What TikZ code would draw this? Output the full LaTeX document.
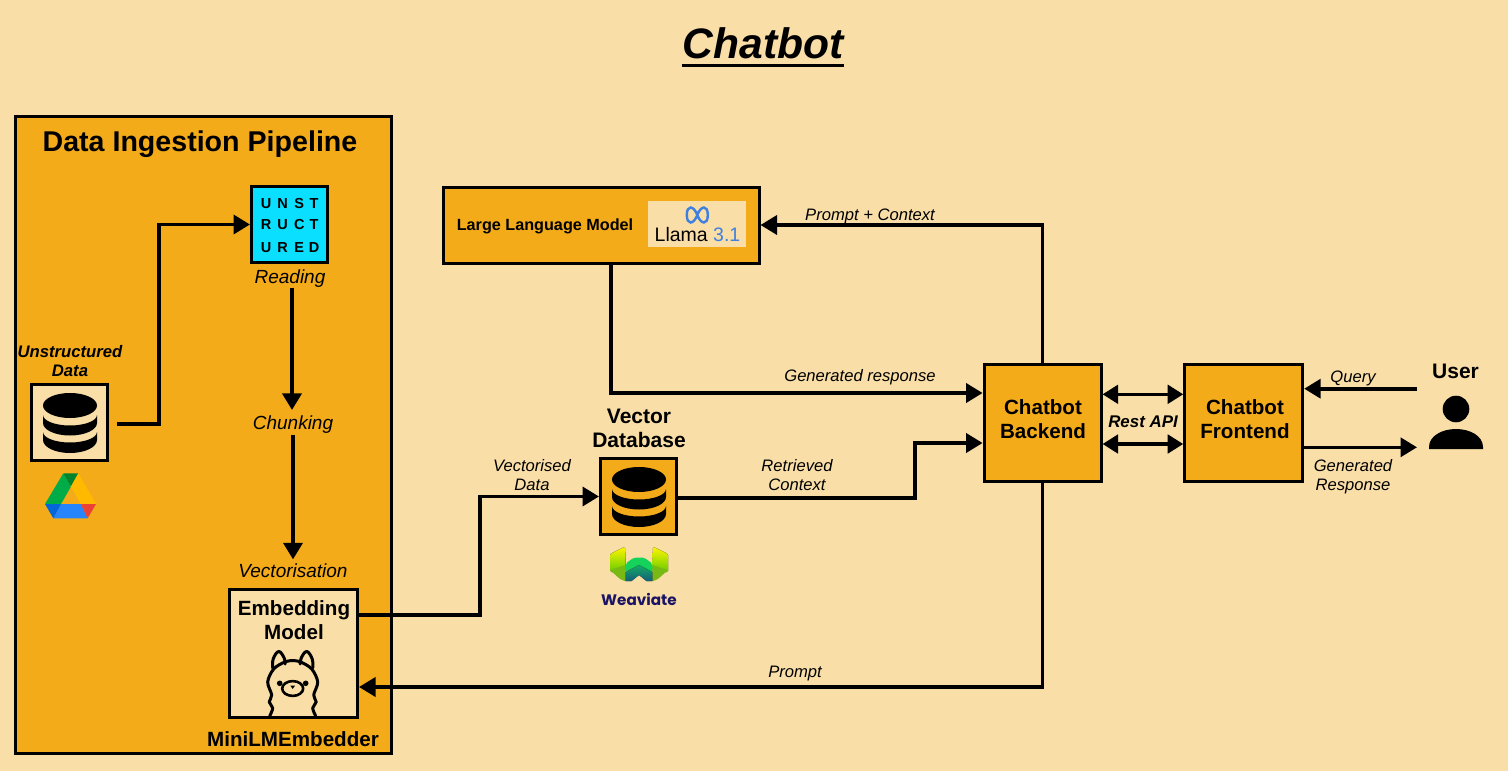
\documentclass[tikz,border=0pt]{standalone}
\usepackage{fontspec}
\setmainfont{Liberation Sans}
\newfontfamily\popfont{Poppins}
\usetikzlibrary{arrows.meta,calc}
\definecolor{bgc}{HTML}{F9DEA8}
\definecolor{orc}{HTML}{F4AB19}
\definecolor{cyanc}{HTML}{0ADFFF}
\definecolor{metab}{HTML}{3F7FE0}
\definecolor{navyc}{HTML}{1B1464}
\newcommand{\fsz}[2]{\fontsize{#1}{#2}\selectfont}
\newcommand{\dbicon}[3]{%
 \begin{scope}[shift={(#1,#2)}]
  \fill[#3] (0,-17) circle[x radius=27pt,y radius=12.5pt];
  \fill[#3] (-27,-7.5) -- (-27,0.5) arc[start angle=180,end angle=360,x radius=27pt,y radius=12.5pt] -- (27,-7.5) arc[start angle=0,end angle=-180,x radius=27pt,y radius=10.5pt] -- cycle;
  \fill[#3] (-27,9.5) -- (-27,17.5) arc[start angle=180,end angle=360,x radius=27pt,y radius=13pt] -- (27,9.5) arc[start angle=0,end angle=-180,x radius=27pt,y radius=10.5pt] -- cycle;
 \end{scope}}
\tikzset{
 x=1pt,y=-1pt,
 boxnode/.style={draw=black,line width=3pt,inner sep=0pt,align=center},
 orbox/.style={boxnode,fill=orc},
 crbox/.style={boxnode,fill=bgc},
 txt/.style={inner sep=0pt,align=center},
 elabel/.style={txt,font=\itshape\fsz{16.6}{19.5}},
 steplabel/.style={txt,font=\itshape\fsz{19}{23}},
 heavy/.style={txt,font=\bfseries\fsz{20.6}{23.8}},
 conn/.style={line width=3.6pt,-{Triangle[length=16.5pt,width=19pt]}},
 bothconn/.style={line width=3.4pt,{Triangle[length=15.5pt,width=18.5pt]}-{Triangle[length=15.5pt,width=18.5pt]}},
 ulet/.style={txt,font=\bfseries\fsz{14.5}{15}},
}
\begin{document}
\begin{tikzpicture}
\fill[bgc] (0,0) rectangle (1508,771);
\useasboundingbox (0,0) rectangle (1508,771);
% title
\node[txt,font=\bfseries\itshape\fsz{42.6}{46}] (title) at (763,43) {Chatbot};
\draw[line width=2.6pt] (title.west |- 0,65.5) -- (title.east |- 0,65.5);
% pipeline frame
\node[orbox,minimum width=376pt,minimum height=637pt] (pipe) at (203.2,434.5) {};
\node[txt,font=\bfseries\fsz{28.6}{32}] (pipetitle) at (200,144.5) {Data Ingestion Pipeline};
% unstructured data
\node[txt,font=\bfseries\itshape\fsz{16.7}{19}] (udatal) at (70,361) {Unstructured\\Data};
\node[crbox,minimum width=76pt,minimum height=76pt] (udata) at (69.5,422.5) {};
\dbicon{70}{422.5}{black}
% drive logo
\fill[rounded corners=0.6pt,color={rgb,255:red,0;green,172;blue,71}] (63.3,473.3) -- (45,504) -- (61,504) -- (71,486.5) -- cycle;
\fill[color={rgb,255:red,0;green,131;blue,45}] (63.3,473.3) -- (78.3,473.3) -- (71,486.5) -- cycle;
\fill[color={rgb,255:red,255;green,186;blue,0}] (78.3,473.3) -- (96,504) -- (80.7,504) -- (71,486.5) -- cycle;
\fill[color={rgb,255:red,38;green,132;blue,252}] (61,504) -- (80.7,504) -- (87.7,518.3) -- (53.3,518.3) -- cycle;
\fill[color={rgb,255:red,0;green,102;blue,218}] (45,504) -- (61,504) -- (53.3,518.3) -- cycle;
\fill[color={rgb,255:red,234;green,67;blue,53}] (96,504) -- (80.7,504) -- (87.7,518.3) -- cycle;
% unstructured logo
\node[boxnode,fill=cyanc,minimum width=76pt,minimum height=76pt] (ulogo) at (289.5,224.5) {};
\foreach \tx/\ty/\tl in {266/203.3/U,282.7/203.3/N,299.3/203.3/S,314/203.3/T,266/225/R,282.7/225/U,299.3/225/C,314/225/T,266/247.3/U,282.7/247.3/R,299.3/247.3/E,314/247.3/D}
  \node[ulet] at (\tx,\ty) {\tl};
\node[steplabel] (reading) at (290,278.5) {Reading};
\node[steplabel] (chunk) at (293,424.5) {Chunking};
\node[steplabel] (vect) at (293,570.5) {Vectorisation};
% embedding
\node[crbox,minimum width=128pt,minimum height=128pt] (embed) at (293.5,653) {};
\node[heavy] (embedl) at (294,620) {Embedding\\Model};
\node[txt,font=\bfseries\fsz{20.6}{24}] (mini) at (293,739) {MiniLMEmbedder};
% alpaca
\begin{scope}[shift={(292.7,0)},line width=3pt,line join=round,line cap=round]
 \foreach \s in {1,-1}{
  \draw[xscale=\s] plot[smooth,tension=0.55] coordinates {(-23,716) (-20,708) (-23.5,702) (-21,695) (-25,682) (-19,669) (-8,662) (0,660.5)};
  \draw[xscale=\s] plot[smooth,tension=0.7] coordinates {(-20,668) (-19.5,659) (-14,651.5) (-8.5,658) (-7.5,664)};
  \fill[xscale=\s] (-13,683.3) circle[radius=2.8pt];
 }
 \draw[line width=2.6pt] (0,688.5) circle[x radius=10.5pt,y radius=7.4pt];
 \fill (-2.4,685.5) -- (2.4,685.5) -- (0,689) -- cycle;
\end{scope}
% vector db
\node[heavy,font=\bfseries\fsz{21}{23.5}] (vdbl) at (639,428.5) {Vector\\Database};
\node[orbox,minimum width=76pt,minimum height=76pt] (vdb) at (638.5,496.5) {};
\dbicon{639}{496.5}{black}
% weaviate
\fill[rounded corners=1.5pt,top color=yellow!92!orange,bottom color=green!50!yellow!80!black] (610,554) -- (625,546.7) -- (625.7,563) -- (625.7,572) -- (610,572) -- cycle;
\fill[rounded corners=1.5pt,top color=yellow!92!orange,bottom color=green!50!yellow!80!black] (668,554) -- (653,546.7) -- (652.3,563) -- (652.3,572) -- (668,572) -- cycle;
\fill[rounded corners=1pt,color={rgb,255:red,120;green,185;blue,20}] (610,570) -- (625.7,565) -- (625.7,581.5) -- (620,579) -- cycle;
\fill[rounded corners=1pt,color={rgb,255:red,120;green,185;blue,20}] (668,570) -- (652.3,565) -- (652.3,581.5) -- (658,579) -- cycle;
\fill[rounded corners=2pt,color={rgb,255:red,20;green,210;blue,90}] (625.7,563.5) -- (634,557.5) -- (644,557.5) -- (652.3,563.5) -- (652.3,572) -- (639,565) -- (625.7,572) -- cycle;
\fill[top color={rgb,255:red,20;green,170;blue,100},bottom color={rgb,255:red,20;green,95;blue,120}] (625.7,572) -- (639,565) -- (652.3,572) -- (652.3,581) -- (646.5,581) -- (639,575) -- (631.5,581) -- (625.7,581) -- cycle;
\node[txt,font=\popfont\bfseries\fsz{15.2}{17},text=navyc] (weav) at (639,599) {Weaviate};
% LLM
\node[orbox,minimum width=316pt,minimum height=76pt] (llm) at (601,225) {};
\node[txt,font=\bfseries\fsz{16.2}{18}] (llml) at (545,226.5) {Large Language Model};
\node[fill=bgc,inner sep=0pt,minimum width=98pt,minimum height=46pt] (llama) at (697,224) {};
\begin{scope}[shift={(697.3,215)},metab,line width=2.4pt]
 \draw (0,0) .. controls (-3.5,-9.5) and (-10.5,-10.5) .. (-10.5,0) .. controls (-10.5,10.5) and (-3.5,9.5) .. (0,0) .. controls (3.5,-9.5) and (10.5,-10.5) .. (10.5,0) .. controls (10.5,10.5) and (3.5,9.5) .. (0,0) -- cycle;
\end{scope}
\node[txt,font=\fsz{19.5}{22}] (llamat) at (697.5,235) {Llama \textcolor{metab}{3.1}};
% backend / frontend / user
\node[orbox,minimum width=117pt,minimum height=117pt] (back) at (1042.6,422.5) {};
\node[heavy] (backl) at (1043,419) {Chatbot\\Backend};
\node[orbox,minimum width=118pt,minimum height=117pt] (front) at (1243.7,422.5) {};
\node[heavy] (frontl) at (1245,419) {Chatbot\\Frontend};
\node[txt,font=\bfseries\fsz{21}{24}] (userl) at (1455.5,371) {User};
\coordinate (userin) at (1417,388.7);
\coordinate (userout) at (1417,447.3);
\fill (1456,409) circle[radius=13.3pt];
\fill (1429,449) -- (1429,447) .. controls (1429,436) and (1442,429) .. (1456,429) .. controls (1470,429) and (1483,436) .. (1483,447) -- (1483,449) -- cycle;
% connectors
\draw[conn] ([xshift=8pt,yshift=-1.5pt]udata.east) -- ++(42,0) |- (ulogo.west);
\draw[conn] ([xshift=2pt]reading.south) -- ([xshift=-1pt,yshift=5.5pt]chunk.north);
\draw[conn] ([yshift=-1pt]chunk.south) -- ([yshift=4pt]vect.north);
\draw[conn] ([yshift=38pt]embed.east) -- ++(121,0) |- (vdb.west);
\draw[conn] ([yshift=-1.5pt]vdb.east) -- ++(237,0) |- ([yshift=-20.5pt]back.west);
\draw[conn] ([xshift=10pt]llm.south) |- ([yshift=29.5pt]back.west);
\draw[conn] (back.north) |- (llm.east);
\draw[conn] (back.south) |- ([yshift=-34pt]embed.east);
\draw[bothconn] ([yshift=28.2pt]back.east) -- ([yshift=28.2pt]front.west);
\draw[bothconn] ([yshift=-21.5pt]back.east) -- ([yshift=-21.5pt]front.west);
\draw[conn] (userin) -- (userin -| front.east);
\draw[conn] (userout -| front.east) -- (userout);
% labels
\node[elabel] (l1) at (870,216) {Prompt + Context};
\node[elabel] (l2) at (860,377) {Generated response};
\node[elabel] (l3) at (532,475) {Vectorised\\Data};
\node[elabel] (l4) at (797,475) {Retrieved\\Context};
\node[elabel] (l5) at (795,674) {Prompt};
\node[elabel] (l6) at (1353,378) {Query};
\node[elabel] (l7) at (1353,476.5) {Generated\\Response};
\node[txt,font=\bfseries\itshape\fsz{16.9}{19}] (rest) at (1143,422) {Rest API};
\end{tikzpicture}
\end{document}
